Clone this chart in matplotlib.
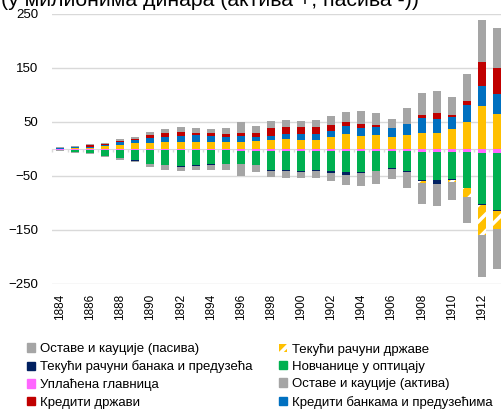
import matplotlib.pyplot as plt
import numpy as np
from matplotlib.patches import Patch

plt.rcParams['font.family'] = ['Liberation Sans', 'DejaVu Sans']
plt.rcParams['hatch.linewidth'] = 2.5

years = [1884, 1885, 1886, 1887, 1888, 1889, 1890, 1891, 1892, 1893,
         1894, 1895, 1896, 1897, 1898, 1899, 1900, 1901, 1902, 1903,
         1904, 1905, 1906, 1907, 1908, 1909, 1910, 1911, 1912, 1913]

# актива (+)
zlato = [0.5, 1, 2.5, 5, 8, 10.5, 12, 12.5, 13.5, 13.5,
         12.3, 13, 13, 14, 16, 18, 16.7, 16.7, 21.9, 26.9,
         23.8, 26.2, 23.1, 25.6, 29.9, 29.3, 37.3, 50.3, 79.3, 65.7]
krediti_bankama = [1.5, 2, 1.5, 2.5, 5, 6, 8.5, 10, 11, 12,
                   11.7, 10, 10.5, 9, 8.6, 9.2, 10.5, 10.5, 12.3, 15.4,
                   14.8, 14.8, 15.4, 19.8, 27.2, 26.5, 22.2, 30.9, 37.7, 35.8]
krediti_drzavi = [0, 1.5, 4, 2.5, 2.5, 2.5, 6, 8, 7.5, 5,
                  5, 5.5, 5.5, 7.5, 14.2, 14.2, 14.2, 14.2, 11.1, 8.6,
                  6.8, 3.1, 0, 0, 6.2, 10.5, 3.1, 8.6, 43.8, 48.8]
ostave_aktiva = [1.5, 1.5, 0.5, 2, 2.5, 4, 4.5, 7, 8.5, 8,
                 8.6, 10.5, 20.4, 12.5, 13, 12.3, 11, 12.3, 15.4, 18.5,
                 25.3, 22.8, 17.9, 30.2, 40.1, 42, 34, 49.4, 79, 74]

# пасива (-)
glavnica = [2, 2, 2, 2, 2, 2, 2, 2, 2, 2,
            2.5, 2.5, 3, 3, 3, 3, 3, 3, 3.5, 3.5,
            3.5, 3.5, 3.5, 3.5, 5.5, 5.5, 5.5, 5.5, 8, 8]
novcanice = [0.5, 4, 6, 10.5, 15, 18.5, 25, 28, 29, 27,
             24.7, 25, 24.7, 26, 35, 36.4, 37, 36.4, 37, 38.9,
             38.3, 36.4, 31.5, 37, 52.5, 51.2, 50.6, 67.3, 93.8, 104.3]
tekuci_banke = [0, 0, 0, 0, 0, 1, 0.5, 0.5, 2, 2,
                1.8, 1, 0.5, 1.2, 2, 1.8, 1.8, 1.8, 3.1, 5.6,
                1.9, 1.2, 1.9, 1.2, 1.2, 8, 1.9, 0, 1.2, 1.9]
tekuci_drzava = [0, 0, 0, 0, 0, 0, 0, 0, 0, 0,
                 0, 0, 0, 0, 0, 0, 0, 0, 0, 0,
                 0, 0, 0, 0, 3, 0, 2.5, 15.4, 55.6, 34.6]
ostave_pasiva = [1.5, 0.5, 0.5, 2, 3, 2.5, 5, 8, 8.5, 7.5,
                 9.3, 10, 21, 12.4, 11, 11.7, 11, 11.7, 16, 18.5,
                 24.7, 22.8, 17.9, 30.9, 38.9, 40.7, 34, 48.1, 78.4, 72.8]

fig = plt.figure(figsize=(5.02, 4.09), dpi=100)
ax = fig.add_axes([52/502, 1-284/409, 1-52/502, 270/409])

x = np.array(years)
w = 0.53

# позитивни део
bottom = np.zeros(len(years))
for vals, col in [(zlato, '#ffc000'), (krediti_bankama, '#0070c0'),
                  (krediti_drzavi, '#c00000'), (ostave_aktiva, '#a5a5a5')]:
    ax.bar(x, vals, w, bottom=bottom, color=col, linewidth=0, zorder=2)
    bottom += np.array(vals)

# негативни део
neg = np.zeros(len(years))
for vals, col, h in [(glavnica, '#ff66ff', None), (novcanice, '#00b050', None),
                     (tekuci_banke, '#002060', None), (tekuci_drzava, '#ffc000', '//'),
                     (ostave_pasiva, '#a5a5a5', None)]:
    v = -np.array(vals)
    ax.bar(x, v, w, bottom=neg, color=col, hatch=h,
           edgecolor='white' if h else col, linewidth=0, zorder=2)
    neg += v

ax.set_xlim(1884 - 8/15.07, 1884 - 8/15.07 + 450/15.07)
ax.set_ylim(-250, 250)
ax.set_yticks([-250, -150, -50, 50, 150, 250])
ax.grid(axis='y', color='#d9d9d9', lw=1)
ax.set_axisbelow(True)
for s in ax.spines.values():
    s.set_visible(False)
ax.set_xticks(years[::2])
ax.set_xticklabels([str(y) for y in years[::2]], rotation=90, fontsize=8.5)
ax.tick_params(axis='x', length=0, pad=7)
ax.tick_params(axis='y', length=0, pad=10, labelsize=9.5)

# линија нуле са подеоцима
sec = ax.secondary_xaxis(0.5)
sec.set_xticks(np.array(years) - 0.5)
sec.set_xticklabels([])
sec.tick_params(direction='in', length=2.5, color='#d9d9d9', width=1)
sec.spines['top'].set_color('#d9d9d9')

fig.text(0.002, 1 - 6/409, '(у милионима динара (актива +, пасива -))',
         fontsize=15.3, va='baseline', ha='left')

col1 = [Patch(color='#a5a5a5', label='Оставе и кауције (пасива)'),
        Patch(color='#002060', label='Текући рачуни банака и предузећа'),
        Patch(color='#ff66ff', label='Уплаћена главница'),
        Patch(color='#c00000', label='Кредити држави')]
col2 = [Patch(facecolor='#ffc000', edgecolor='white', hatch='//', linewidth=0,
              label='Текући рачуни државе'),
        Patch(color='#00b050', label='Новчанице у оптицају'),
        Patch(color='#a5a5a5', label='Оставе и кауције (актива)'),
        Patch(color='#0070c0', label='Кредити банкама и предузећима')]
for handles, lx in [(col1, 27/502), (col2, 279/502)]:
    fig.legend(handles=handles, loc='upper left', bbox_to_anchor=(lx, 1 - 343/409),
               frameon=False, fontsize=9.5, handlelength=0.6, handleheight=0.6,
               handletextpad=0.35, borderpad=0, borderaxespad=0, labelspacing=0.41)

fig.savefig('out.png', dpi=100)
